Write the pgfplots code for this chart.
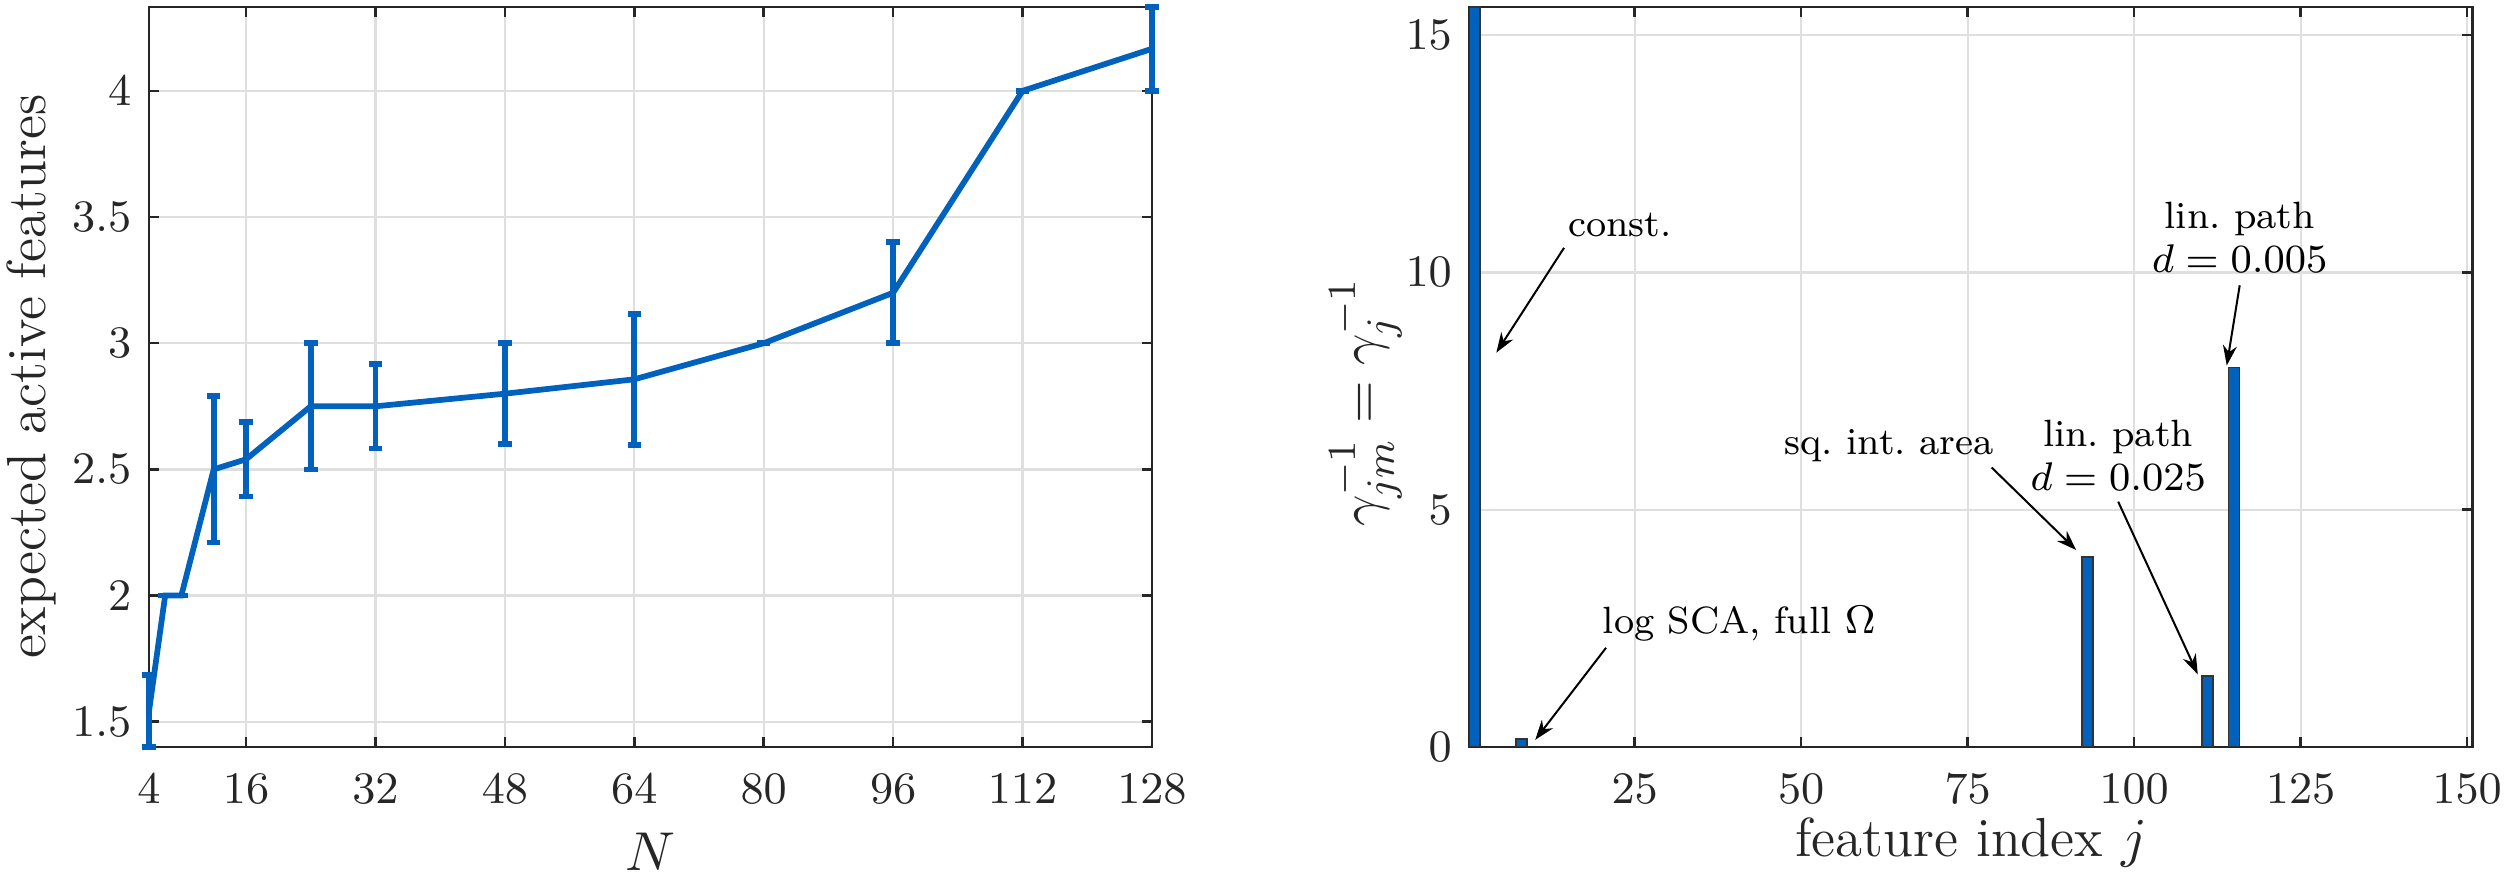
\documentclass[border=0pt]{standalone}
\usepackage{pgfplots}
\pgfplotsset{compat=1.18}
\usetikzlibrary{arrows.meta}
\definecolor{mblue}{RGB}{0,98,189}
\definecolor{axgray}{RGB}{38,38,38}
\definecolor{gridgray}{RGB}{223,223,223}
\pgfplotsset{
  myaxis/.style={
    scale only axis,
    width=200.6pt, height=148.04pt,
    axis line style={line width=0.5pt, color=axgray},
    tick style={line width=0.5pt, color=axgray},
    tick align=inside,
    major tick length=2pt,
    grid=major,
    grid style={line width=0.45pt, color=gridgray},
    tick label style={font=\fontsize{9.4}{11}\selectfont, color=axgray},
    xticklabel style={anchor=center, yshift=-8.4pt},
    label style={font=\fontsize{11}{13}\selectfont, color=axgray},
  }
}
\begin{document}
\begin{tikzpicture}
\useasboundingbox (0,0) rectangle (501.8pt,178pt);
\begin{axis}[myaxis,
  at={(29.8pt,28.6pt)}, anchor=south west,
  xmin=4, xmax=128, ymin=1.4, ymax=4.3333,
  xtick={4,16,32,48,64,80,96,112,128},
  ytick={1.5,2,2.5,3,3.5,4},
  clip=false,
  xlabel={$N$},
  ylabel={expected active features},
  xlabel style={at={(axis description cs:0.5,-0.1414)}, anchor=center},
  ylabel style={at={(axis description cs:-0.1167,0.5)}, anchor=center},
]
\addplot[color=mblue, line width=1.15pt, mark=none,
  error bars/.cd, y dir=both, y explicit,
  error bar style={line width=1.15pt, color=mblue},
  error mark options={rotate=90, mark size=1.35pt, line width=1.15pt, color=mblue}]
  table[x=N, y=m, y error=e] {
N m e
4 1.542 0.142
6 2 0
8 2 0
12 2.5 0.29
16 2.54 0.147
24 2.75 0.25
32 2.75 0.167
48 2.8 0.2
64 2.857 0.26
80 3 0
96 3.2 0.2
112 4 0
128 4.1667 0.1667
};
\end{axis}
\begin{axis}[myaxis,
  at={(293.9pt,28.6pt)}, anchor=south west,
  xmin=0.2, xmax=150.8, ymin=0, ymax=15.6,
  xtick={25,50,75,100,125,150},
  ytick={0,5,10,15},
  xlabel={feature index $j$},
  ylabel={$\gamma_{jm}^{-1} = \gamma_j^{-1}$},
  xlabel style={at={(axis description cs:0.5,-0.129)}, anchor=center},
  ylabel style={at={(axis description cs:-0.1037,0.466)}, anchor=center},
]
\addplot[ybar, bar width=1.6, fill=mblue, draw=black!80, line width=0.3pt]
  coordinates {(1,15.6) (8,0.17) (93,4) (111,1.5) (115,8)};
\begin{scope}[every node/.style={font=\fontsize{7.6}{8.8}\selectfont, color=black, align=center, inner sep=0pt},
  arr/.style={-{Stealth[length=4pt,width=2.8pt]}, line width=0.4pt, black}]
\node at (axis cs:22.8,10.99) {const.};
\draw[arr] (axis cs:14.4,10.52) -- (axis cs:4.23,8.31);
\node at (axis cs:40.7,2.6) {log SCA, full $\Omega$};
\draw[arr] (axis cs:20.7,2.09) -- (axis cs:10.07,0.15);
\node at (axis cs:63.2,6.36) {sq.\ int.\ area};
\draw[arr] (axis cs:78.6,5.89) -- (axis cs:91.3,4.15);
\node at (axis cs:97.6,6.15) {lin.\ path\\$d = 0.025$};
\draw[arr] (axis cs:97.6,5.17) -- (axis cs:109.55,1.53);
\node at (axis cs:115.85,10.74) {lin.\ path\\$d = 0.005$};
\draw[arr] (axis cs:115.85,9.73) -- (axis cs:113.9,8.04);
\end{scope}
\end{axis}
\end{tikzpicture}
\end{document}
